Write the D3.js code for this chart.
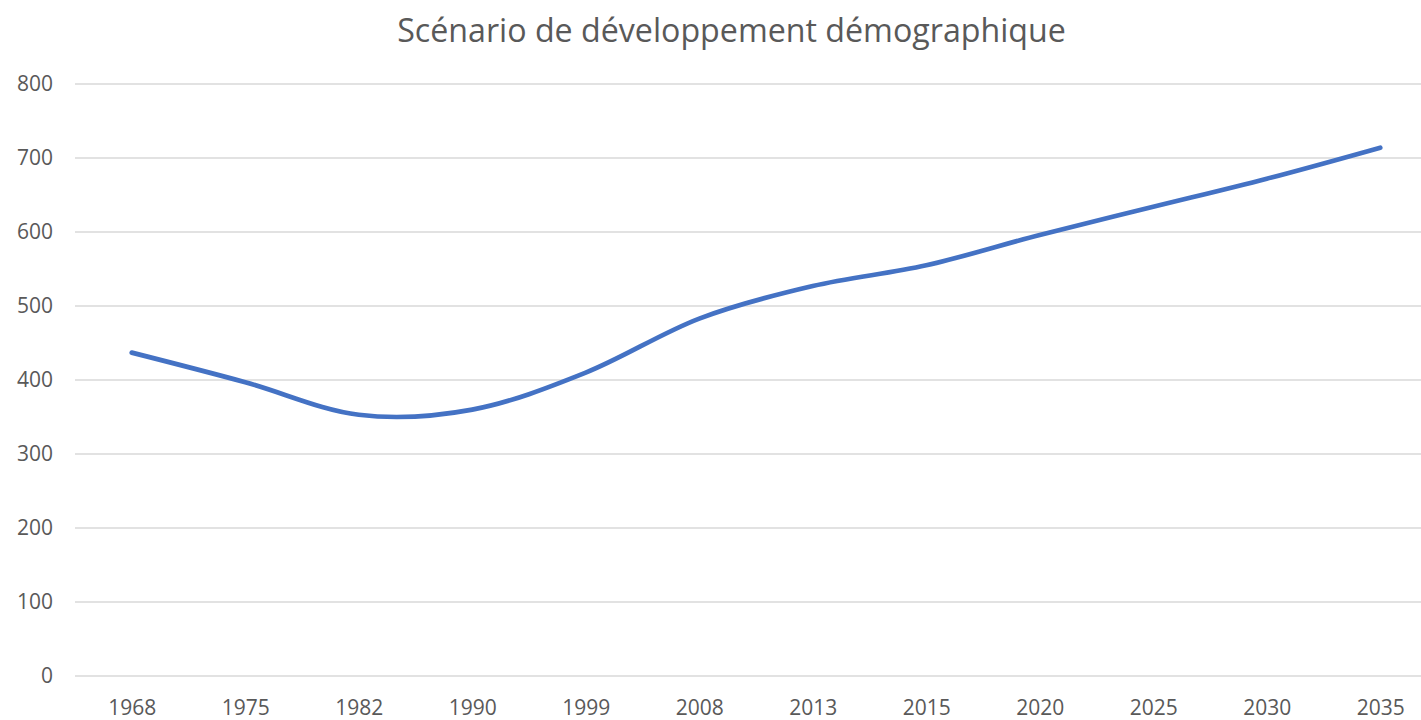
<!DOCTYPE html>
<html>
<head>
<meta charset="utf-8">
<script src="https://cdn.jsdelivr.net/npm/d3@7"></script>
<style>
  body { margin: 0; background: #fff; }
  text { font-family: "Open Sans", sans-serif; fill: #595959; }
</style>
</head>
<body>
<script>
const years = ["1968", "1975", "1982", "1990", "1999", "2008", "2013", "2015", "2020", "2025", "2030", "2035"];
const population = [437, 397, 353, 360, 410, 483, 527, 555, 596, 634, 672, 714];
const yTicks = [0, 100, 200, 300, 400, 500, 600, 700, 800];
const title = "Scénario de développement démographique";

const width = 1421;
const height = 720;
const plot = { left: 75, right: 1437, top: 84, bottom: 676 };

const x = d3.scalePoint()
    .domain(years)
    .range([plot.left, plot.right])
    .padding(0.5);
const y = d3.scaleLinear()
    .domain([0, 800])
    .range([plot.bottom, plot.top]);

const svg = d3.select("body").append("svg")
    .attr("width", width)
    .attr("height", height);

// horizontal gridlines
svg.append("g")
    .selectAll("line")
    .data(yTicks)
    .join("line")
        .attr("x1", plot.left)
        .attr("x2", plot.right)
        .attr("y1", d => y(d))
        .attr("y2", d => y(d))
        .attr("stroke", "#d9d9d9")
        .attr("stroke-width", 1.5);

// y labels
const yAxis = svg.append("g")
    .attr("transform", `translate(53, 0)`)
    .call(d3.axisLeft(y).tickValues(yTicks).tickSize(0).tickPadding(0));
yAxis.select(".domain").remove();
yAxis.selectAll("text")
    .style("font-size", "21px")
    .attr("fill", "#595959");

// x labels
const xAxis = svg.append("g")
    .attr("transform", `translate(0, ${plot.bottom})`)
    .call(d3.axisBottom(x).tickSize(0).tickPadding(24));
xAxis.select(".domain").remove();
xAxis.selectAll("text")
    .style("font-size", "21px")
    .attr("fill", "#595959");

const line = d3.line()
    .x((d, i) => x(years[i]))
    .y(d => y(d))
    .curve(d3.curveCatmullRom.alpha(0));

svg.append("path")
    .datum(population)
    .attr("fill", "none")
    .attr("stroke", "#4472c4")
    .attr("stroke-width", 4.7)
    .attr("stroke-linecap", "round")
    .attr("stroke-linejoin", "round")
    .attr("d", line);

// title, sized to span the same width as the original
const t = svg.append("text")
    .attr("x", 731.5)
    .attr("y", 42)
    .attr("text-anchor", "middle")
    .style("font-size", "30px")
    .text(title);
const len = t.node().getComputedTextLength();
t.style("font-size", (30 * 669 / len) + "px");
</script>
</body>
</html>
